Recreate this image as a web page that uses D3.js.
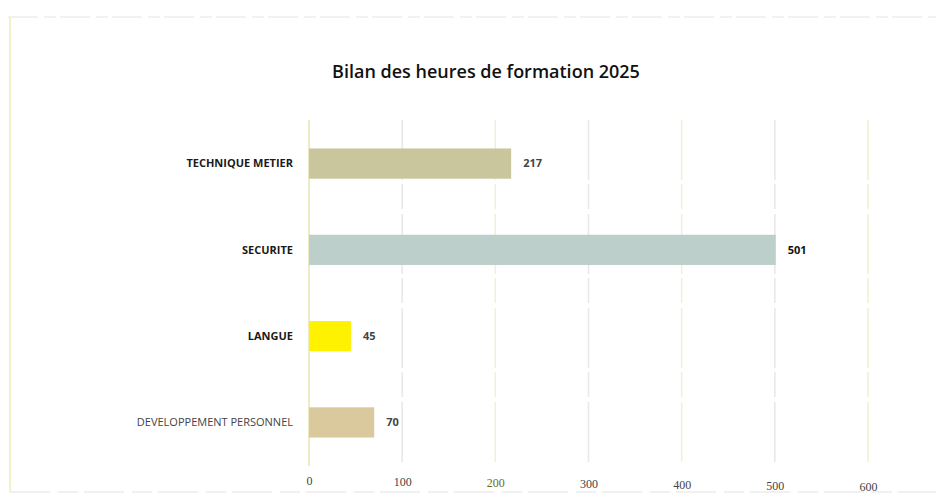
<!DOCTYPE html>
<html>
<head>
<meta charset="utf-8">
<script src="https://cdn.jsdelivr.net/npm/d3@7"></script>
<style>
    body { margin: 0; background: #fff; }
    svg { display: block; }
</style>
</head>
<body>
<div id="chart"></div>
<script>
// chart data
var categories = ["TECHNIQUE METIER", "SECURITE", "LANGUE", "DEVELOPPEMENT PERSONNEL"];
var values = [217, 501, 45, 70];
var ticks = [0, 100, 200, 300, 400, 500, 600];
var barColors = ["#c9c59c", "#bccfca", "#fff200", "#d9c99d"];

// set the dimensions and margins of the graph
var W = 938, H = 495;
var margin = { top: 120, right: 70, bottom: 29, left: 309 },
    width = 868 - margin.left,
    height = H - margin.top - margin.bottom;

var root = d3.select("#chart")
    .append("svg")
    .attr("width", W)
    .attr("height", H);

// scanned page frame
root.append("line").attr("x1", 8).attr("x2", 936).attr("y1", 17).attr("y2", 17)
    .style("stroke", "#e4e4e4").style("stroke-dasharray", "30,6,12,4");
root.append("line").attr("x1", 10).attr("x2", 10).attr("y1", 17).attr("y2", 492)
    .style("stroke", "#f2f1c8").style("stroke-width", 2);
root.append("line").attr("x1", 10).attr("x2", 936).attr("y1", 492).attr("y2", 492)
    .style("stroke", "#e2e2e2").style("stroke-dasharray", "40,8,20,6");

// title
root.append("text")
    .attr("x", 486)
    .attr("y", 78)
    .attr("text-anchor", "middle")
    .style("font-family", "'Open Sans', sans-serif")
    .style("font-size", "18px")
    .style("font-weight", "600")
    .style("fill", "#111")
    .text("Bilan des heures de formation 2025");

var svg = root.append("g")
    .attr("transform", "translate(" + margin.left + "," + margin.top + ")");

// X scale
var x = d3.scaleLinear()
    .domain([0, 600])
    .range([0, width]);

// Y scale
var y = d3.scaleBand()
    .domain(categories)
    .range([0, height])
    .paddingInner(0.65)
    .paddingOuter(0.33);

// gridlines
svg.selectAll(".grid")
    .data(ticks)
    .enter()
    .append("line")
    .attr("class", "grid")
    .attr("x1", function (d) { return x(d); })
    .attr("x2", function (d) { return x(d); })
    .attr("y1", 0)
    .attr("y2", height)
    .style("stroke", function (d, i) { return i % 2 === 0 && i > 0 ? "#f0f0d4" : "#e8e8e8"; })
    .style("stroke-width", 1.5)
    .style("stroke-dasharray", "60,4,25,5");

// X axis labels (no domain line)
var xAxis = svg.append("g")
    .attr("transform", "translate(0," + (height + 10) + ")")
    .call(d3.axisBottom(x).tickValues(ticks).tickSize(0).tickPadding(0));
xAxis.select(".domain").remove();
xAxis.selectAll("text")
    .attr("y", function (d) { return d / 100; })
    .style("font-family", "'Liberation Serif', 'DejaVu Serif', serif")
    .style("font-size", "12px")
    .style("fill", function (d) { return d === 200 ? "#6b6a1e" : "#444"; });

// category labels
svg.selectAll(".cat")
    .data(categories)
    .enter()
    .append("text")
    .attr("class", "cat")
    .attr("x", -16)
    .attr("y", function (d) { return y(d) + y.bandwidth() / 2; })
    .attr("dy", "0.35em")
    .attr("text-anchor", "end")
    .style("font-family", "'Open Sans', sans-serif")
    .style("font-size", "11px")
    .style("font-weight", function (d, i) { return i === 3 ? "normal" : "bold"; })
    .style("fill", function (d, i) { return i === 3 ? "#444" : "#1a1a1a"; })
    .text(function (d) { return d; });

// zero line
svg.append("line")
    .attr("x1", x(0)).attr("x2", x(0))
    .attr("y1", 0).attr("y2", height)
    .style("stroke", "#ecebc4")
    .style("stroke-width", 2);

// bars
svg.selectAll("rect.bar")
    .data(values)
    .enter()
    .append("rect")
    .attr("class", "bar")
    .attr("x", x(0))
    .attr("y", function (d, i) { return y(categories[i]); })
    .attr("width", function (d) { return x(d) - x(0); })
    .attr("height", y.bandwidth())
    .attr("fill", function (d, i) { return barColors[i]; });

// value labels
svg.selectAll(".val")
    .data(values)
    .enter()
    .append("text")
    .attr("class", "val")
    .attr("x", function (d) { return x(d) + 12; })
    .attr("y", function (d, i) { return y(categories[i]) + y.bandwidth() / 2; })
    .attr("dy", "0.35em")
    .style("font-family", "'Open Sans', sans-serif")
    .style("font-size", "11px")
    .style("font-weight", "bold")
    .style("fill", function (d, i) { return i === 1 ? "#111" : "#444"; })
    .text(function (d) { return d; });
</script>
</body>
</html>
